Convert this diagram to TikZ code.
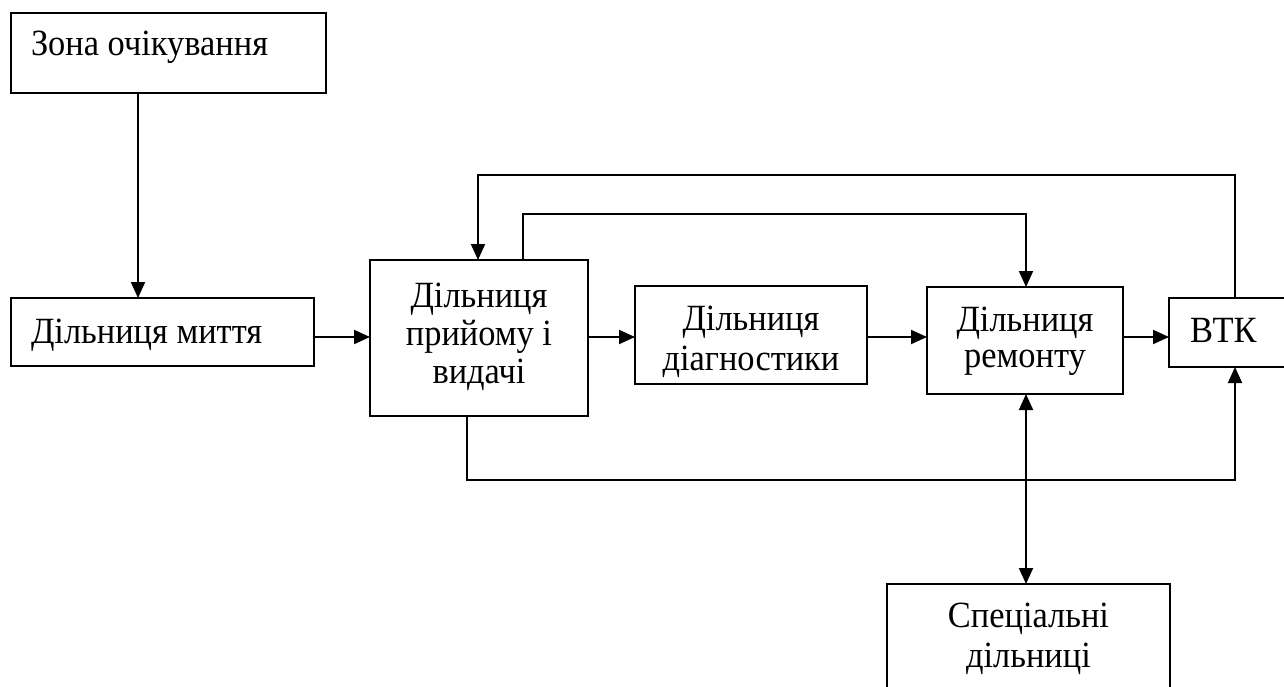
\documentclass[tikz,border=0pt]{standalone}
\usepackage{fontspec}
\setmainfont{Liberation Serif}[FakeStretch=0.93]
\usetikzlibrary{arrows.meta}
\tikzset{
  box/.style={draw, rectangle, line width=2pt, inner sep=0pt, outer sep=0pt},
  lbl/.style={inner sep=0pt, outer sep=0pt, font=\fontsize{37}{38}\selectfont},
  arr/.style={line width=2pt, -{Triangle[length=16pt,width=14pt]}},
  darr/.style={line width=2pt, {Triangle[length=16pt,width=14pt]}-{Triangle[length=16pt,width=14pt]}}
}
\begin{document}
\begin{tikzpicture}[x=1pt,y=1pt]
\useasboundingbox (0,0) rectangle (1284,-686);
\clip (0,0) rectangle (1284,-686);

% boxes
\node[box, minimum width=315pt, minimum height=80pt]  (zona)   at (168.5,-53) {};
\node[box, minimum width=303pt, minimum height=68pt]  (myttia) at (162.5,-332) {};
\node[box, minimum width=218pt, minimum height=156pt] (pryiom) at (479,-338) {};
\node[box, minimum width=232pt, minimum height=98pt]  (diag)   at (751,-335) {};
\node[box, minimum width=196pt, minimum height=107pt] (remont) at (1025,-340.5) {};
\node[box, minimum width=132pt, minimum height=69pt]  (vtk)    at (1235,-332.5) {};
\node[box, minimum width=283pt, minimum height=116pt] (spec)   at (1028.5,-642) {};

% texts
\node[lbl, anchor=base west] (tzona) at (31,-55) {Зона очікування};
\node[lbl, anchor=base west] (tmyt) at (31,-343) {Дільниця миття};
\node[lbl, anchor=base] (tpr1) at (479,-307) {Дільниця};
\node[lbl, anchor=base] (tpr2) at (479,-345) {прийому і};
\node[lbl, anchor=base] (tpr3) at (479,-383) {видачі};
\node[lbl, anchor=base] (tdg1) at (751,-330) {Дільниця};
\node[lbl, anchor=base] (tdg2) at (751,-370) {діагностики};
\node[lbl, anchor=base] (trm1) at (1025,-331) {Дільниця};
\node[lbl, anchor=base] (trm2) at (1025,-367) {ремонту};
\node[lbl, anchor=base west] (tvtk) at (1190,-342) {ВТК};
\node[lbl, anchor=base] (tsp1) at (1028.5,-627) {Спеціальні};
\node[lbl, anchor=base] (tsp2) at (1028.5,-667) {дільниці};

% helper coordinates
\coordinate (xz) at (138,0);
\coordinate (row) at (0,-337);
\coordinate (top) at (0,-175);
\coordinate (mid) at (0,-214);
\coordinate (bot) at (0,-480);
\coordinate (xa) at (478,0);
\coordinate (xb) at (523,0);
\coordinate (xc) at (467,0);
\coordinate (xd) at (1026,0);

% connectors
\draw[arr] (zona.south -| xz) -- (myttia.north -| xz);
\draw[arr] (myttia.east |- row) -- (pryiom.west |- row);
\draw[arr] (pryiom.east |- row) -- (diag.west |- row);
\draw[arr] (diag.east |- row) -- (remont.west |- row);
\draw[arr] (remont.east |- row) -- (vtk.west |- row);
\draw[arr] (vtk.north) |- (top -| xa) -- (pryiom.north -| xa);
\draw[arr] (pryiom.north -| xb) |- (mid -| xd) -- (remont.north -| xd);
\draw[arr] (pryiom.south -| xc) |- (bot -| vtk.south) -- (vtk.south);
\draw[darr] (remont.south -| xd) -- (spec.north -| xd);
\end{tikzpicture}
\end{document}
